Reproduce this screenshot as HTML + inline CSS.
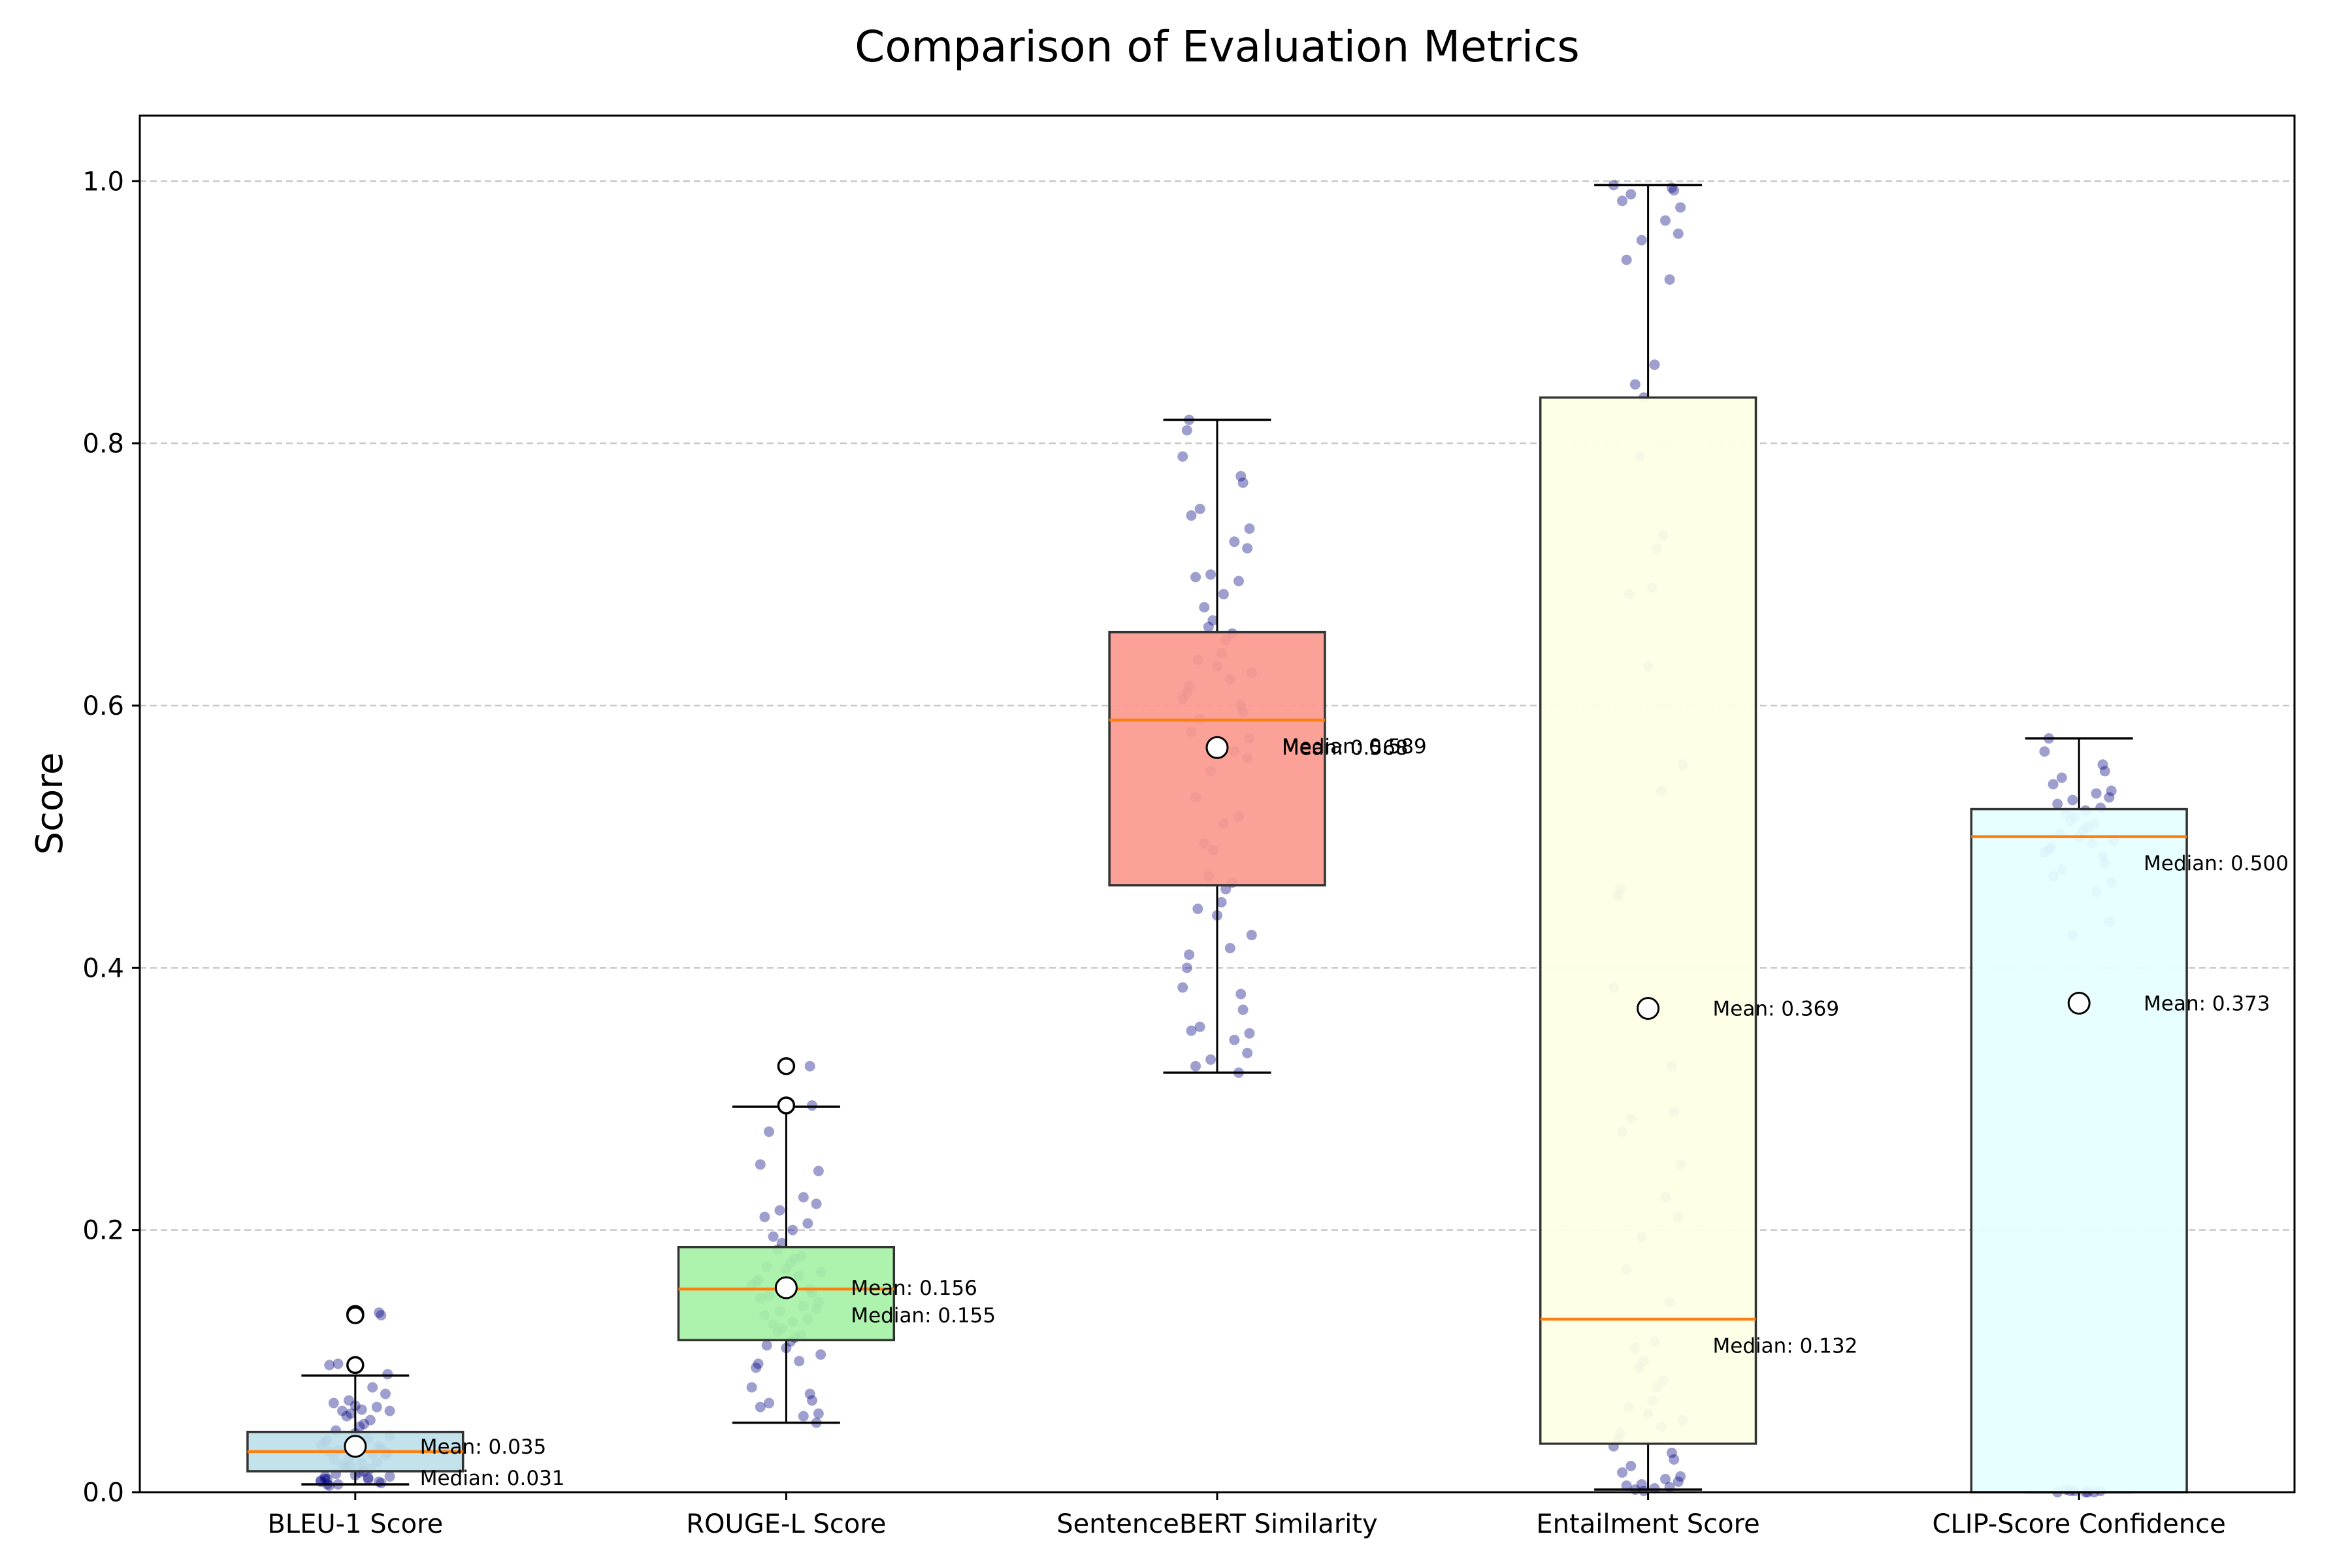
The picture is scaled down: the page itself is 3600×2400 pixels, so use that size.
<!DOCTYPE html>
<html><head><meta charset="utf-8">
<style>
html,body{margin:0;padding:0;background:#fff;}
svg{display:block;font-family:"DejaVu Sans","Liberation Sans",sans-serif;}
</style></head>
<body>
<svg id="chart" width="3600" height="2400" viewBox="0 0 3600 2400" xmlns="http://www.w3.org/2000/svg">
<rect x="0" y="0" width="3600" height="2400" fill="#fff"/>
<text x="1863" y="94" font-size="66" text-anchor="middle" fill="#000">Comparison of Evaluation Metrics</text>
<text transform="translate(95,1230) rotate(-90)" font-size="56" text-anchor="middle" fill="#000">Score</text>
<g id="grid"></g>
<g id="points"></g>
<g id="boxes"></g>
<g id="annots"></g>
<g id="axes"></g>
</svg>
<script>
const categories = ["BLEU-1 Score","ROUGE-L Score","SentenceBERT Similarity","Entailment Score","CLIP-Score Confidence"];
const q1Values = [0.016,0.116,0.463,0.037,0.000];
const q3Values = [0.046,0.187,0.656,0.835,0.521];
const medianValues = [0.031,0.155,0.589,0.132,0.500];
const meanValues = [0.035,0.156,0.568,0.369,0.373];
const whiskerLow = [0.006,0.053,0.320,0.002,0.000];
const whiskerHigh = [0.089,0.294,0.818,0.997,0.575];
const outliers = [[0.136,0.135,0.097],[0.325,0.295],[],[],[]];
const meanLabels = ["Mean: 0.035","Mean: 0.156","Mean: 0.568","Mean: 0.369","Mean: 0.373"];
const medianLabels = ["Median: 0.031","Median: 0.155","Median: 0.589","Median: 0.132","Median: 0.500"];
const yTicks = [0,0.2,0.4,0.6,0.8,1.0];
const yTickLabels = ["0.0","0.2","0.4","0.6","0.8","1.0"];
const boxColors = ["#bde0ea","#a6f1a6","#fb998e","#ffffe6","#e6ffff"];
const scatterBLEU = [0.005,0.006,0.007,0.008,0.009,0.01,0.01,0.011,0.012,0.013,0.014,0.015,0.016,0.018,0.019,0.02,0.021,0.022,0.023,0.025,0.026,0.028,0.029,0.03,0.031,0.032,0.033,0.035,0.036,0.038,0.04,0.041,0.043,0.045,0.047,0.05,0.052,0.055,0.058,0.06,0.062,0.063,0.065,0.068,0.07,0.075,0.08,0.09,0.097,0.098,0.135,0.137,0.008,0.012,0.006,0.01,0.062,0.066];
const scatterROUGE = [0.053,0.058,0.06,0.065,0.068,0.07,0.075,0.08,0.095,0.098,0.1,0.105,0.11,0.112,0.115,0.118,0.12,0.122,0.125,0.128,0.13,0.132,0.135,0.138,0.14,0.142,0.145,0.148,0.15,0.152,0.155,0.158,0.16,0.162,0.165,0.168,0.17,0.172,0.175,0.178,0.18,0.185,0.19,0.195,0.2,0.205,0.21,0.215,0.22,0.225,0.245,0.25,0.275,0.295,0.325];
const scatterSBERT = [0.32,0.325,0.33,0.335,0.345,0.35,0.352,0.355,0.368,0.38,0.385,0.4,0.41,0.415,0.425,0.44,0.445,0.45,0.46,0.465,0.47,0.49,0.495,0.51,0.515,0.53,0.55,0.56,0.565,0.575,0.58,0.59,0.595,0.6,0.605,0.61,0.615,0.62,0.625,0.63,0.635,0.64,0.65,0.655,0.66,0.665,0.675,0.685,0.695,0.698,0.7,0.72,0.725,0.735,0.745,0.75,0.77,0.775,0.79,0.81,0.818];
const scatterENT = [0.001,0.002,0.003,0.004,0.005,0.006,0.008,0.01,0.012,0.015,0.02,0.025,0.03,0.035,0.04,0.045,0.05,0.055,0.06,0.065,0.07,0.08,0.085,0.095,0.1,0.11,0.115,0.145,0.17,0.195,0.21,0.225,0.25,0.275,0.285,0.29,0.325,0.385,0.455,0.46,0.535,0.555,0.63,0.685,0.69,0.72,0.73,0.79,0.835,0.845,0.86,0.925,0.94,0.955,0.96,0.97,0.98,0.985,0.99,0.993,0.995,0.997];
const scatterCLIP = [0.0,0.0,0.001,0.001,0.002,0.0,0.001,0.0,0.425,0.435,0.458,0.465,0.47,0.475,0.48,0.485,0.488,0.49,0.492,0.495,0.497,0.5,0.502,0.505,0.507,0.51,0.512,0.515,0.518,0.52,0.522,0.525,0.528,0.53,0.533,0.535,0.54,0.545,0.55,0.555,0.565,0.575];
const scatterSets = [scatterBLEU,scatterROUGE,scatterSBERT,scatterENT,scatterCLIP];
const jitter = [-0.06,0.03,-0.02,0.07,-0.08,0.01,0.05,-0.04,0.08,-0.01,0.04,-0.07,0.02,-0.05,0.06,0.0,-0.03,0.075,-0.065,0.035,-0.015,0.055,-0.045,0.015];

const NS="http://www.w3.org/2000/svg";
const L=214,R=3512,T=177,B=2284;
function X(v){return L+(v-0.5)/5*(R-L);}
function Y(v){return B-v/1.05*(B-T);}
function mk(tag,parent,attrs){const e=document.createElementNS(NS,tag);for(const k in attrs)e.setAttribute(k,attrs[k]);document.getElementById(parent).appendChild(e);return e;}

yTicks.forEach((t,i)=>{
  if(t>0){const g=mk('line','grid',{x1:L,x2:R,y1:Y(t),y2:Y(t),stroke:'#c8c8c8','stroke-width':2.5,'stroke-dasharray':'10 6'});
  
  }
  const tk=mk('line','axes',{x1:L-12,x2:L,y1:Y(t),y2:Y(t),stroke:'#000','stroke-width':3});
  
  
  const tl=mk('text','axes',{x:L-24,y:Y(t)+14,'font-size':40,'text-anchor':'end',fill:'#000'});
  tl.textContent=yTickLabels[i];
  
  
});

scatterSets.forEach((set,ci)=>{
  set.forEach((v,j)=>{
    const c=mk('circle','points',{cx:X(ci+1+jitter[(j*7+ci*3)%jitter.length]),cy:Y(v),r:8,fill:'#000080','fill-opacity':0.38});
    
    
  });
});

categories.forEach((cat,i)=>{
  const cx=X(i+1), hw=(X(1.25)-X(1)), cw=(X(1.125)-X(1));
  const wl=mk('line','boxes',{x1:cx,x2:cx,y1:Y(q1Values[i]),y2:Y(whiskerLow[i]),stroke:'#000','stroke-width':3});
  
  
  const wh=mk('line','boxes',{x1:cx,x2:cx,y1:Y(q3Values[i]),y2:Y(whiskerHigh[i]),stroke:'#000','stroke-width':3});
  
  
  [whiskerLow[i],whiskerHigh[i]].forEach(w=>{
    const cp=mk('line','boxes',{x1:cx-cw,x2:cx+cw,y1:Y(w),y2:Y(w),stroke:'#000','stroke-width':3.5});
    
    
  });
  const bx=mk('rect','boxes',{x:cx-hw,y:Y(q3Values[i]),width:2*hw,height:Y(q1Values[i])-Y(q3Values[i]),fill:boxColors[i],'fill-opacity':0.92,stroke:'#333','stroke-width':3.5});
  
  
  const md=mk('line','boxes',{x1:cx-hw,x2:cx+hw,y1:Y(medianValues[i]),y2:Y(medianValues[i]),stroke:'#ff7f0e','stroke-width':4.5});
  
  
  outliers[i].forEach(o=>{
    const oc=mk('circle','boxes',{cx:cx,cy:Y(o),r:12,fill:'#fff',stroke:'#000','stroke-width':3.5});
    
    
  });
  const mn=mk('circle','boxes',{cx:cx,cy:Y(meanValues[i]),r:16,fill:'#fff',stroke:'#000','stroke-width':3});
  
  
  const t1=mk('text','annots',{x:X(i+1.15),y:Y(meanValues[i])+11,'font-size':31,fill:'#000'});
  t1.textContent=meanLabels[i];
  
  
  const t2=mk('text','annots',{x:X(i+1.15),y:Y(medianValues[i]-0.02)+11,'font-size':31,fill:'#000'});
  t2.textContent=medianLabels[i];
  
  
  const xt=mk('line','axes',{x1:cx,x2:cx,y1:B,y2:B+12,stroke:'#000','stroke-width':3});
  
  
  const xl=mk('text','axes',{x:cx,y:B+62,'font-size':40,'text-anchor':'middle',fill:'#000'});
  xl.textContent=cat;
  
  
});
const fr=mk('rect','axes',{x:L,y:T,width:R-L,height:B-T,fill:'none',stroke:'#000','stroke-width':3});


</script>
</body></html>
